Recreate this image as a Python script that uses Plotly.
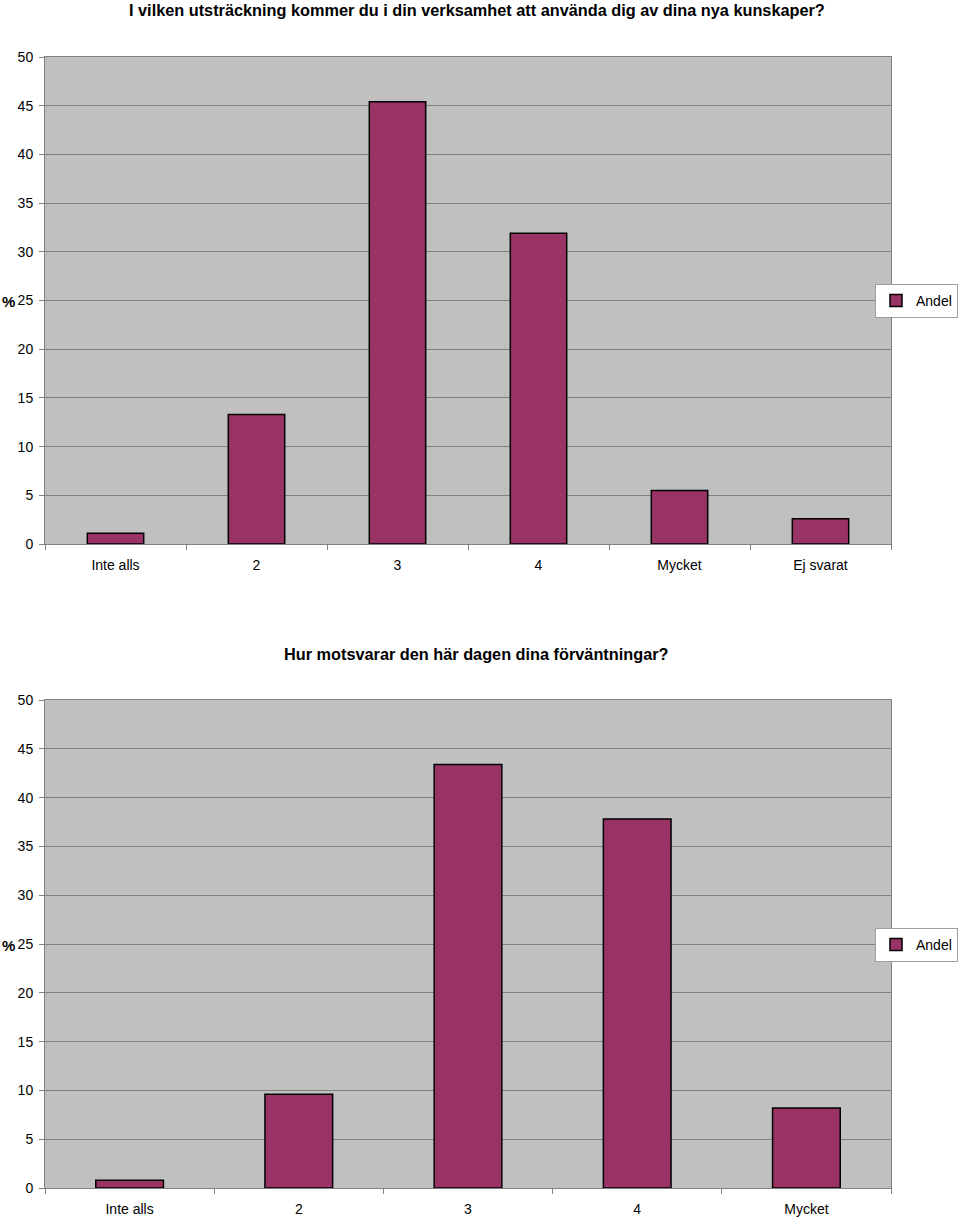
import plotly.graph_objects as go

W, H = 960, 1219

title1 = "I vilken utsträckning kommer du i din verksamhet att använda dig av dina nya kunskaper?"
cats1 = ["Inte alls", "2", "3", "4", "Mycket", "Ej svarat"]
vals1 = [1.1, 13.3, 45.4, 31.9, 5.5, 2.6]

title2 = "Hur motsvarar den här dagen dina förväntningar?"
cats2 = ["Inte alls", "2", "3", "4", "Mycket"]
vals2 = [0.8, 9.6, 43.4, 37.8, 8.2]

series_name = "Andel"
y_ticks = [0, 5, 10, 15, 20, 25, 30, 35, 40, 45, 50]

BAR = "#993366"
BG = "#C0C0C0"
GRID = "#808080"
FONT = "Liberation Sans, Arial, sans-serif"

def px_x(x):
    return x / W

def px_y(y):
    return 1 - y / H

fig = go.Figure()
fig.add_trace(go.Bar(x=cats1, y=vals1, name=series_name, marker=dict(color=BAR, line=dict(color="black", width=1.5)),
                     xaxis="x", yaxis="y", legend="legend", width=0.4))
fig.add_trace(go.Bar(x=cats2, y=vals2, name=series_name, marker=dict(color=BAR, line=dict(color="black", width=1.5)),
                     xaxis="x2", yaxis="y2", legend="legend2", width=0.4))

xcommon = dict(showgrid=False, ticks="outside", tickson="boundaries", ticklen=5, tickcolor=GRID,
               showline=True, linecolor=GRID, linewidth=1, mirror=True, ticklabelstandoff=8,
               tickfont=dict(family=FONT, size=14, color="black"), fixedrange=True)
ycommon = dict(range=[0, 50], tickvals=y_ticks, showgrid=True, gridcolor=GRID, gridwidth=1,
               ticks="outside", ticklen=5, tickcolor=GRID, showline=True, linecolor=GRID, linewidth=1,
               mirror=True, zeroline=False, ticklabelstandoff=3,
               tickfont=dict(family=FONT, size=14, color="black"), fixedrange=True)

legcommon = dict(xanchor="right", yanchor="middle", bgcolor="white",
                 bordercolor="#A0A0A0", borderwidth=1, font=dict(family=FONT, size=14),
                 itemwidth=30, tracegroupgap=0)

fig.update_layout(
    width=W, height=H, margin=dict(l=0, r=0, t=0, b=0, autoexpand=False),
    paper_bgcolor="white", plot_bgcolor=BG,
    showlegend=True,
    font=dict(family=FONT, size=14, color="black"),
    xaxis=dict(domain=[px_x(45), px_x(891)], anchor="y", **xcommon),
    yaxis=dict(domain=[px_y(544), px_y(57)], anchor="x", **ycommon),
    xaxis2=dict(domain=[px_x(45), px_x(891)], anchor="y2", **xcommon),
    yaxis2=dict(domain=[px_y(1188), px_y(700)], anchor="x2", **ycommon),
    legend=dict(x=px_x(958), y=px_y(301), **legcommon),
    legend2=dict(x=px_x(958), y=px_y(945), **legcommon),
    annotations=[
        dict(text="<b>" + title1 + "</b>", x=px_x(477), y=px_y(10), xref="paper", yref="paper",
             showarrow=False, font=dict(family=FONT, size=16.3), xanchor="center", yanchor="middle"),
        dict(text="<b>" + title2 + "</b>", x=px_x(476), y=px_y(654), xref="paper", yref="paper",
             showarrow=False, font=dict(family=FONT, size=16.3), xanchor="center", yanchor="middle"),
        dict(text="<b>%</b>", x=px_x(8), y=px_y(301), xref="paper", yref="paper",
             showarrow=False, font=dict(family=FONT, size=15), xanchor="center", yanchor="middle"),
        dict(text="<b>%</b>", x=px_x(8), y=px_y(945), xref="paper", yref="paper",
             showarrow=False, font=dict(family=FONT, size=15), xanchor="center", yanchor="middle"),
    ],
)

fig.write_html("out.html")
